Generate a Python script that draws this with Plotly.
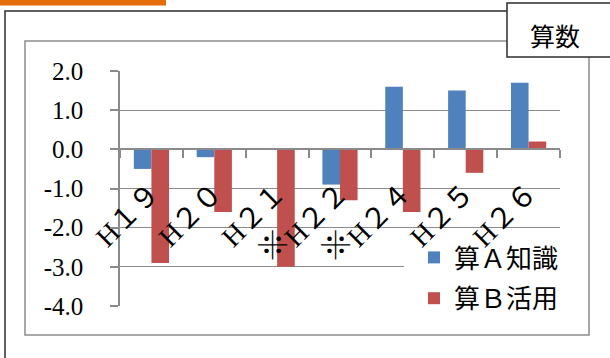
import plotly.graph_objects as go

categories = ["H１９", "H２０", "H２１", "H２２", "H２４", "H２５", "H２６"]
notes = ["", "", "※", "※", "", "", ""]
series_a_name = "算Ａ知識"
series_a = [-0.5, -0.2, None, -0.9, 1.6, 1.5, 1.7]
series_b_name = "算Ｂ活用"
series_b = [-2.9, -1.6, -3.0, -1.3, -1.6, -0.6, 0.2]
y_tickvals = [2, 1, 0, -1, -2, -3, -4]
y_ticktext = ["2.0", "1.0", "0.0", "-1.0", "-2.0", "-3.0", "-4.0"]
subject = "算数"

W, H = 610, 358
L, R, T, B = 120, 50, 71, 52
PW, PH = W - L - R, H - T - B
YMIN, YMAX = -4, 2
N = len(categories)

def px(x):
    return (x - L) / PW

def py(y):
    return (H - B - y) / PH

def dx(x):  # pixel -> category-axis position
    return -0.5 + N * px(x)

def dy(y):  # pixel -> value-axis position
    return YMIN + (YMAX - YMIN) * py(y)

FONT = "Liberation Serif, Noto Sans CJK JP"
GRID = "#8a8a8a"

fig = go.Figure()
fig.add_trace(go.Bar(x=categories, y=series_a, name=series_a_name,
                     marker=dict(color="#4F81BD", line=dict(width=0)),
                     legendgroup="a"))
fig.add_trace(go.Bar(x=categories, y=series_b, name=series_b_name,
                     marker=dict(color="#C0504D", line=dict(width=0)),
                     legendgroup="b"))

shapes = [
    dict(type="rect", xref="paper", yref="paper",
         x0=px(-3), x1=px(166), y0=py(-3), y1=py(5.5),
         fillcolor="#E46C0A", line=dict(width=0), layer="above"),
    dict(type="rect", xref="paper", yref="paper",
         x0=px(5), x1=px(640), y0=py(11), y1=py(380),
         line=dict(color="#2b2b2b", width=1.5), layer="below"),
    dict(type="rect", xref="paper", yref="paper",
         x0=px(25), x1=px(589), y0=py(41), y1=py(335),
         line=dict(color="#8c8c8c", width=1.5), layer="below"),
    dict(type="rect", xref="paper", yref="paper",
         x0=px(507), x1=px(640), y0=py(3), y1=py(57),
         fillcolor="white", line=dict(color="#2b2b2b", width=1.5), layer="above"),
    # legend backdrop: hides gridlines but stays under tick labels
    dict(type="rect", xref="x", yref="y",
         x0=dx(404), x1=dx(564), y0=dy(233), y1=dy(314),
         fillcolor="white", line=dict(width=0), layer="between"),
]

annotations = [
    dict(text=subject, xref="paper", yref="paper", x=px(555), y=py(35),
         showarrow=False, xanchor="center", yanchor="middle",
         font=dict(family="Noto Sans CJK JP", size=25, color="black")),
]
for c, n in zip(categories, notes):
    if n:
        annotations.append(dict(text=n, x=c, y=0, xref="x", yref="y",
                                showarrow=False, xanchor="center", yanchor="middle",
                                textangle=-45, xshift=-4, yshift=-96,
                                font=dict(family=FONT, size=30, color="black")))

fig.update_layout(
    width=W, height=H,
    margin=dict(l=L, r=R, t=T, b=B),
    paper_bgcolor="white", plot_bgcolor="white",
    barmode="group", bargap=0.44, bargroupgap=0,
    font=dict(family=FONT, size=24, color="black"),
    shapes=shapes, annotations=annotations,
    showlegend=True,
    legend=dict(x=px(414), xanchor="left", y=py(234), yanchor="top",
                bgcolor="rgba(0,0,0,0)", font=dict(family=FONT, size=26, color="black"),
                traceorder="grouped", tracegroupgap=4,
                itemclick=False),
    xaxis=dict(type="category", range=[-0.5, N - 0.5],
               anchor="free", position=(0 - YMIN) / (YMAX - YMIN),
               showline=True, linecolor=GRID, linewidth=1.5,
               ticks="outside", tickson="boundaries", ticklen=8, tickcolor=GRID,
               tickwidth=1.5, showgrid=False, tickangle=-45,
               ticklabelstandoff=15,
               tickfont=dict(family=FONT, size=28, color="black")),
    yaxis=dict(range=[YMIN, YMAX], tickvals=y_tickvals, ticktext=y_ticktext,
               showline=True, linecolor=GRID, linewidth=1.5,
               ticks="outside", ticklen=8, tickcolor=GRID, tickwidth=1.5,
               showgrid=True, gridcolor=GRID, gridwidth=1.2, zeroline=False,
               ticklabelstandoff=22,
               tickfont=dict(family=FONT, size=25, color="black")),
)

fig.write_html("out.html")
